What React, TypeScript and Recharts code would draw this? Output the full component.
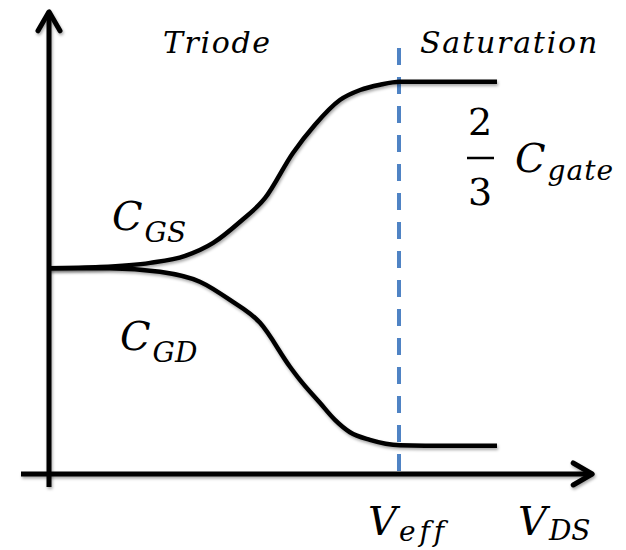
import { LineChart, Line, XAxis, YAxis, ReferenceLine } from "recharts";

// V_DS in units of V_eff, capacitance in units of C_gate
const cgsX = [0, 0.146, 0.289, 0.389, 0.469, 0.546, 0.617, 0.697, 0.76, 0.831, 0.889, 0.946, 1.003, 1.146, 1.28];
const cgsY = [0.35, 0.352, 0.359, 0.371, 0.393, 0.429, 0.469, 0.546, 0.594, 0.636, 0.653, 0.662, 0.667, 0.667, 0.667];
const cgdX = [0, 0.174, 0.317, 0.431, 0.517, 0.603, 0.689, 0.717, 0.774, 0.817, 0.86, 0.917, 1.003, 1.146, 1.28];
const cgdY = [0.35, 0.35, 0.344, 0.327, 0.296, 0.257, 0.182, 0.16, 0.121, 0.092, 0.071, 0.058, 0.049, 0.048, 0.048];

const vEff = 1;
const xDomain = [-0.14, 1.6486];
const yDomain = [-0.1293, 0.8061];

const cgs = cgsX.map((x, i) => ({ x, y: cgsY[i] }));
const cgd = cgdX.map((x, i) => ({ x, y: cgdY[i] }));

const SHADOW = "drop-shadow(1px 2px 1.5px rgba(0,0,0,0.35))";
const SERIF = "'DejaVu Serif', serif";

// axis line with an open chevron at the far end
function Arrow(props: any) {
  const { x1, y1, x2, y2 } = props;
  const ang = Math.atan2(y2 - y1, x2 - x1);
  const back = 19;
  const spread = 11;
  const bx = x2 - back * Math.cos(ang);
  const by = y2 - back * Math.sin(ang);
  const px = -Math.sin(ang) * spread;
  const py = Math.cos(ang) * spread;
  return (
    <g style={{ filter: SHADOW }}>
      <line x1={x1} y1={y1} x2={x2} y2={y2} stroke="#000" strokeWidth={5} />
      <path
        d={`M${bx + px},${by + py} L${x2},${y2} L${bx - px},${by - py}`}
        fill="none"
        stroke="#000"
        strokeWidth={5}
        strokeLinecap="round"
        strokeLinejoin="round"
      />
    </g>
  );
}

function Sym({ x, y, main, sub, size = 40, subSize = 28, dy = 12, spacing = 0 }: any) {
  return (
    <text x={x} y={y} fontFamily={SERIF} fontStyle="italic" fontSize={size} fill="#000">
      {main}
      <tspan fontSize={subSize} dy={dy} dx={2} letterSpacing={spacing}>
        {sub}
      </tspan>
    </text>
  );
}

export default function App() {
  return (
    <div style={{ position: "absolute", left: 0, top: 0, background: "#fff" }}>
      <LineChart width={626} height={550} margin={{ top: 0, right: 0, bottom: 0, left: 0 }}>
        <XAxis type="number" dataKey="x" domain={xDomain} allowDataOverflow hide />
        <YAxis type="number" dataKey="y" domain={yDomain} allowDataOverflow hide />
        <ReferenceLine
          segment={[{ x: vEff, y: 0.005 }, { x: vEff, y: 0.743 }]}
          stroke="#4f83c4"
          strokeWidth={4}
          strokeDasharray="17 12"
        />
        <ReferenceLine segment={[{ x: -0.08, y: 0 }, { x: 1.552, y: 0 }]} shape={Arrow} />
        <ReferenceLine segment={[{ x: 0, y: -0.022 }, { x: 0, y: 0.786 }]} shape={Arrow} />
        <Line
          data={cgs}
          dataKey="y"
          type="monotone"
          stroke="#000"
          strokeWidth={4.5}
          dot={false}
          activeDot={false}
          isAnimationActive={false}
          style={{ filter: SHADOW }}
        />
        <Line
          data={cgd}
          dataKey="y"
          type="monotone"
          stroke="#000"
          strokeWidth={4.5}
          dot={false}
          activeDot={false}
          isAnimationActive={false}
          style={{ filter: SHADOW }}
        />
        <text x={163} y={53} fontFamily={SERIF} fontStyle="italic" fontSize={30} letterSpacing={1.6}>
          Triode
        </text>
        <text x={420} y={53} fontFamily={SERIF} fontStyle="italic" fontSize={30} letterSpacing={1.8}>
          Saturation
        </text>
        <Sym x={112} y={230} main="C" sub="GS" />
        <Sym x={120} y={350} main="C" sub="GD" />
        <text x={480} y={135} textAnchor="middle" fontFamily={SERIF} fontSize={38}>
          2
        </text>
        <line x1={467} y1={158} x2={494} y2={158} stroke="#000" strokeWidth={2.5} />
        <text x={480} y={205} textAnchor="middle" fontFamily={SERIF} fontSize={38}>
          3
        </text>
        <Sym x={515} y={172} main="C" sub="gate" dy={8} spacing={1} />
        <Sym x={368} y={535} main="V" sub="eff" dy={6} spacing={4} />
        <Sym x={518} y={535} main="V" sub="DS" dy={5} />
      </LineChart>
    </div>
  );
}
